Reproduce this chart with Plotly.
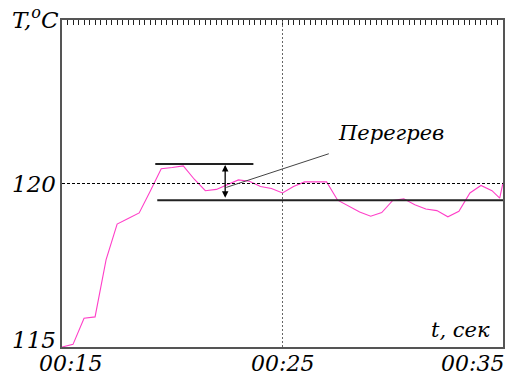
import plotly.graph_objects as go

# time in seconds (x axis runs 00:15 .. 00:35)
t = [15.0, 15.5, 16.0, 16.5, 17.0, 17.5, 18.0, 18.5, 19.0, 19.5,
     20.0, 20.5, 21.0, 21.5, 22.0, 22.5, 23.0, 23.5, 24.0, 24.5,
     25.0, 25.5, 26.0, 26.5, 27.0, 27.5, 28.0, 28.5, 29.0, 29.5,
     30.0, 30.5, 31.0, 31.5, 32.0, 32.5, 33.0, 33.5, 34.0, 34.5,
     34.85, 35.0]
temp = [115.0, 115.08, 115.88, 115.92, 117.67, 118.76, 118.93, 119.10, 119.76, 120.45,
        120.49, 120.54, 120.13, 119.78, 119.82, 119.96, 120.11, 120.07, 119.91, 119.85,
        119.71, 119.91, 120.05, 120.05, 120.05, 119.49, 119.30, 119.13, 119.00, 119.11,
        119.48, 119.53, 119.35, 119.22, 119.17, 118.98, 119.15, 119.71, 119.94, 119.78,
        119.55, 120.02]

x_ticks = [15, 25, 35]
x_labels = ["00:15", "00:25", "00:35"]
y_ticks = [115, 120]
y_labels = ["115", "120"]

setpoint = 120.0
upper_level = 120.60
lower_level = 119.49
overshoot_label = "Перегрев"

FONT = "DejaVu Serif"
FRAME = "#555555"

fig = go.Figure()
fig.add_trace(go.Scatter(x=t, y=temp, mode="lines",
                         line=dict(color="#FF3FC8", width=1.1),
                         hoverinfo="skip", showlegend=False))

fig.update_layout(
    width=515, height=378,
    margin=dict(l=62, r=10, t=20, b=31),
    paper_bgcolor="white", plot_bgcolor="white",
    xaxis=dict(range=[15, 35], side="top", showgrid=False, zeroline=False,
               showticklabels=False, ticks="inside", ticklen=5, tickwidth=1,
               tickcolor="#222222", tickmode="linear", tick0=15, dtick=1,
               minor=dict(ticks="inside", ticklen=5, tickwidth=1, tickcolor="#222222",
                          tick0=15, dtick=0.25, showgrid=False),
               showline=True, linecolor=FRAME, linewidth=1.5, mirror=True),
    yaxis=dict(range=[115, 125], showgrid=False, zeroline=False,
               showticklabels=False, ticks="", showline=True,
               linecolor=FRAME, linewidth=1.5, mirror=True),
)

shapes = [
    dict(type="line", xref="x", yref="y", x0=15, x1=35, y0=setpoint, y1=setpoint,
         line=dict(color="black", width=1, dash="3px,2px")),
    dict(type="line", xref="x", yref="y", x0=25, x1=25, y0=115, y1=125,
         line=dict(color="#666666", width=1, dash="2px,2px")),
    dict(type="line", xref="x", yref="y", x0=19.23, x1=23.68,
         y0=upper_level, y1=upper_level, line=dict(color="#222222", width=2)),
    dict(type="line", xref="x", yref="y", x0=19.32, x1=35,
         y0=lower_level, y1=lower_level, line=dict(color="#222222", width=2)),
    dict(type="line", xref="x", yref="y", x0=22.45, x1=27.1, y0=119.88, y1=120.91,
         line=dict(color="#444444", width=1)),
]
fig.update_layout(shapes=shapes)

annotations = [
    dict(x=22.4, y=upper_level, ax=22.4, ay=lower_level, xref="x", yref="y",
         axref="x", ayref="y", text="", showarrow=True, arrowhead=2,
         arrowside="end+start", arrowsize=1, arrowwidth=1.3, arrowcolor="black",
         standoff=1, startstandoff=1),
    dict(x=29.9, y=121.53, xref="x", yref="y", text="<i>" + overshoot_label + "</i>",
         showarrow=False, font=dict(family=FONT, size=21, color="black")),
    dict(x=-0.003, y=1.0, xref="paper", yref="paper", xanchor="right", yanchor="middle",
         yshift=2, text="<i>T,<sup>o</sup>C</i>", showarrow=False,
         font=dict(family=FONT, size=23, color="black")),
    dict(x=0.975, y=0.0, xref="paper", yref="paper", xanchor="right", yanchor="bottom",
         yshift=3, text="<i>t, сек</i>", showarrow=False,
         font=dict(family=FONT, size=21, color="black")),
]
for v, lab in zip(y_ticks, y_labels):
    annotations.append(dict(x=0, y=v, xref="paper", yref="y", xanchor="right",
                            yanchor="middle", xshift=-4,
                            yshift=7 if v == 115 else 0,
                            text="<i>" + lab + "</i>", showarrow=False,
                            font=dict(family=FONT, size=23, color="black")))
for i, (v, lab) in enumerate(zip(x_ticks, x_labels)):
    shift = 0
    if i == 0:
        shift = 8
    if i == len(x_ticks) - 1:
        shift = -31
    annotations.append(dict(x=v, y=0, xref="x", yref="paper", xanchor="center",
                            yanchor="top", xshift=shift, yshift=-2,
                            text="<i>" + lab + "</i>", showarrow=False,
                            font=dict(family=FONT, size=22, color="black")))
fig.update_layout(annotations=annotations)

fig.write_html("out.html")
